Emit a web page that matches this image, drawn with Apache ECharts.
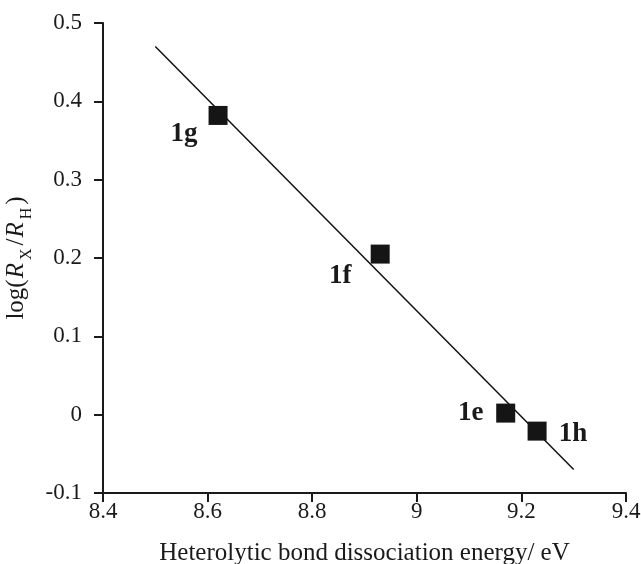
<!DOCTYPE html>
<html>
<head>
<meta charset="utf-8">
<script src="https://cdn.jsdelivr.net/npm/echarts@6/dist/echarts.min.js"></script>
<style>
  html, body { margin: 0; padding: 0; background: #fff; }
  #chart { width: 641px; height: 564px; }
</style>
</head>
<body>
<div id="chart"></div>
<script>
// Compounds and their measured values
const compounds = ['1g', '1f', '1e', '1h'];
const energies = [8.62, 8.93, 9.17, 9.23];      // heterolytic BDE / eV
const logRatios = [0.382, 0.205, 0.002, -0.021]; // log(RX/RH)
// Label offsets (px) around each square
const labelOffsets = [[-34, 19], [-40, 22], [-35, 0], [36, 3]];

// Regression line end points
const fitX = [8.5, 9.3];
const fitY = [0.47, -0.07];

const FONT = '"Liberation Serif", "Times New Roman", serif';
const INK = '#1a1a1a';

const chart = echarts.init(document.getElementById('chart'));

chart.setOption({
  animation: false,
  backgroundColor: '#fff',
  grid: { left: 103, right: 15, top: 23, bottom: 71, containLabel: false, outerBoundsMode: 'none' },
  xAxis: {
    type: 'value',
    min: 8.4, max: 9.4, interval: 0.2,
    name: 'Heterolytic bond dissociation energy/ eV',
    nameLocation: 'middle',
    nameGap: 48,
    nameTextStyle: { fontFamily: FONT, fontSize: 25, color: INK },
    axisLine: { onZero: false, lineStyle: { color: INK, width: 2 } },
    axisTick: { inside: false, length: 9, lineStyle: { color: INK, width: 2 } },
    axisLabel: {
      fontFamily: FONT, fontSize: 23, color: INK, margin: 7,
      formatter: v => String(+v.toFixed(1))
    },
    splitLine: { show: false }
  },
  yAxis: {
    type: 'value',
    min: -0.1, max: 0.5, interval: 0.1,
    name: '{n|log(}{i|R}{s|X}{n|/}{i|R}{s|H}{n|)}',
    nameLocation: 'middle',
    nameRotate: 90,
    nameGap: 58,
    nameTextStyle: {
      fontFamily: FONT, fontSize: 25, color: INK,
      rich: {
        n: { fontFamily: FONT, fontSize: 25, color: INK, verticalAlign: 'bottom', padding: [0, 0, 6, 0] },
        i: { fontFamily: FONT, fontSize: 25, color: INK, fontStyle: 'italic', verticalAlign: 'bottom', padding: [0, 2, 6, 1] },
        s: { fontFamily: FONT, fontSize: 16, color: INK, verticalAlign: 'bottom', padding: [0, 3, 0, 1] }
      }
    },
    axisLine: { show: true, onZero: false, lineStyle: { color: INK, width: 2 } },
    axisTick: { show: true, inside: false, length: 9, lineStyle: { color: INK, width: 2 } },
    axisLabel: {
      fontFamily: FONT, fontSize: 23, color: INK, margin: 21,
      formatter: v => String(+v.toFixed(1))
    },
    splitLine: { show: false }
  },
  series: [
    {
      type: 'line',
      data: fitX.map((x, i) => [x, fitY[i]]),
      showSymbol: false,
      symbol: 'none',
      lineStyle: { color: '#111', width: 1.5 },
      z: 2
    },
    {
      type: 'scatter',
      symbol: 'rect',
      symbolSize: 19,
      itemStyle: { color: '#151515', opacity: 1 },
      data: energies.map((x, i) => ({
        value: [x, logRatios[i]],
        label: {
          show: true,
          formatter: compounds[i],
          position: 'inside',
          offset: labelOffsets[i],
          fontFamily: FONT,
          fontSize: 27,
          fontWeight: 'bold',
          color: INK,
          opacity: 1
        }
      })),
      z: 3
    }
  ]
});
</script>
</body>
</html>
